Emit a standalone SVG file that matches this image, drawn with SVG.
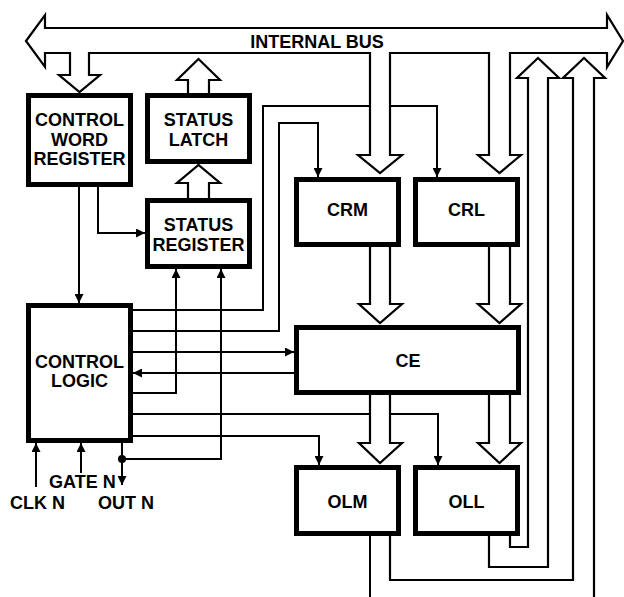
<svg xmlns="http://www.w3.org/2000/svg" width="624" height="597" viewBox="0 0 624 597">
<style>
.box{fill:#fff;stroke:#000;stroke-width:5}
.ln{fill:none;stroke:#000;stroke-width:2}
.hol{fill:#fff;stroke:#000;stroke-width:2.2;stroke-linejoin:miter}
.t{font-family:"Liberation Sans",Arial,sans-serif;font-weight:bold;font-size:18px;fill:#000}
.c{text-anchor:middle}
</style>
<defs>
<marker id="ah" viewBox="0 0 10 10" refX="10" refY="5" markerWidth="10" markerHeight="9" orient="auto" markerUnits="userSpaceOnUse">
<path d="M0,0 L10,5 L0,10 Z" fill="#000"/>
</marker>
</defs>
<rect width="624" height="597" fill="#fff"/>
<g id="connectors">
<path class="ln" d="M79,187 L79,303" marker-end="url(#ah)"/>
<path class="ln" d="M98,187 L98,233 L145,233" marker-end="url(#ah)"/>
<path class="ln" d="M133,310 L263,310 L263,106 L437,106 L437,177" marker-end="url(#ah)"/>
<path class="ln" d="M133,331 L279,331 L279,123 L318,123 L318,177" marker-end="url(#ah)"/>
<path class="ln" d="M133,352 L294,352" marker-end="url(#ah)"/>
<path class="ln" d="M294,373 L133,373" marker-end="url(#ah)"/>
<path class="ln" d="M133,393 L176,393 L176,269" marker-end="url(#ah)"/>
<path class="ln" d="M133,414 L438,414 L438,465" marker-end="url(#ah)"/>
<path class="ln" d="M133,436 L319,436 L319,465" marker-end="url(#ah)"/>
<path class="ln" d="M122,443 L122,485" marker-end="url(#ah)"/>
<path class="ln" d="M122,459 L221,459 L221,269" marker-end="url(#ah)"/>
<circle cx="122" cy="459" r="4" fill="#000"/>
<path class="ln" d="M36,487 L36,443" marker-end="url(#ah)"/>
<path class="ln" d="M81,473 L81,443" marker-end="url(#ah)"/>
<path class="ln" d="M370,536 L370,597"/>
<path class="hol" style="fill:none" d="M510,536 L510,547 L528,547 L528,78 L517,78 L538,58 L559,78 L548,78 L548,567 L489,567 L489,536"/>
<path class="hol" style="fill:none" d="M390,536 L390,580 L573,580 L573,78 L563,78 L584,58 L605,78 L594,78 L594,597"/>
<path class="hol" d="M188,93 L188,80 L177,80 L198.5,59 L220,80 L209,80 L209,93"/>
<path class="hol" d="M188,198 L188,183 L177,183 L198.5,165 L220,183 L209,183 L209,198"/>
<path class="hol" d="M370,247 L370,304 L359,304 L380,323 L402,304 L390,304 L390,247"/>
<path class="hol" d="M489,247 L489,304 L478,304 L499.5,323 L521,304 L510,304 L510,247"/>
<path class="hol" d="M370,395 L370,443 L359,443 L380,463 L402,443 L390,443 L390,395"/>
<path class="hol" d="M489,395 L489,443 L478,443 L499.5,463 L521,443 L510,443 L510,395"/>
</g>
<g id="internal-bus">
<path class="hol" d="M26,41 L45,15 L45,28 L607,28 L607,15 L623,41 L607,67 L607,53 L510,53 L510,155 L521,155 L499.5,173 L478,155 L489,155 L489,53 L390,53 L390,155 L402,155 L380,173 L358,155 L370,155 L370,53 L89,53 L89,75 L100,75 L79.5,92 L59,75 L70,75 L70,53 L45,53 L45,67 Z"/>
<text class="t c" x="317" y="48">INTERNAL BUS</text>
</g>
<g id="control-word-register">
<rect class="box" x="28.5" y="95.5" width="102" height="89"/>
<text class="t c" x="79.5" y="126">CONTROL</text>
<text class="t c" x="79.5" y="145.5">WORD</text>
<text class="t c" x="79.5" y="165">REGISTER</text>
</g>
<g id="status-latch">
<rect class="box" x="147.5" y="95.5" width="102" height="66"/>
<text class="t c" x="198.5" y="126">STATUS</text>
<text class="t c" x="198.5" y="145.5">LATCH</text>
</g>
<g id="status-register">
<rect class="box" x="147.5" y="200.5" width="102" height="66"/>
<text class="t c" x="198.5" y="231">STATUS</text>
<text class="t c" x="198.5" y="251">REGISTER</text>
</g>
<g id="control-logic">
<rect class="box" x="28.5" y="305.5" width="102" height="135"/>
<text class="t c" x="79.5" y="368">CONTROL</text>
<text class="t c" x="79.5" y="387">LOGIC</text>
</g>
<g id="crm">
<rect class="box" x="296.5" y="179.5" width="102" height="65"/>
<text class="t c" x="347.5" y="216">CRM</text>
</g>
<g id="crl">
<rect class="box" x="415.5" y="179.5" width="102" height="65"/>
<text class="t c" x="466.5" y="216">CRL</text>
</g>
<g id="ce">
<rect class="box" x="296.5" y="327.5" width="222" height="65"/>
<text class="t c" x="408" y="367">CE</text>
</g>
<g id="olm">
<rect class="box" x="296.5" y="467.5" width="102" height="66"/>
<text class="t c" x="347.5" y="508">OLM</text>
</g>
<g id="oll">
<rect class="box" x="415.5" y="467.5" width="102" height="66"/>
<text class="t c" x="466.5" y="508">OLL</text>
</g>
<g id="pins">
<text class="t" x="49" y="488">GATE N</text>
<text class="t" x="10" y="509">CLK N</text>
<text class="t" x="98" y="509">OUT N</text>
</g>
</svg>
